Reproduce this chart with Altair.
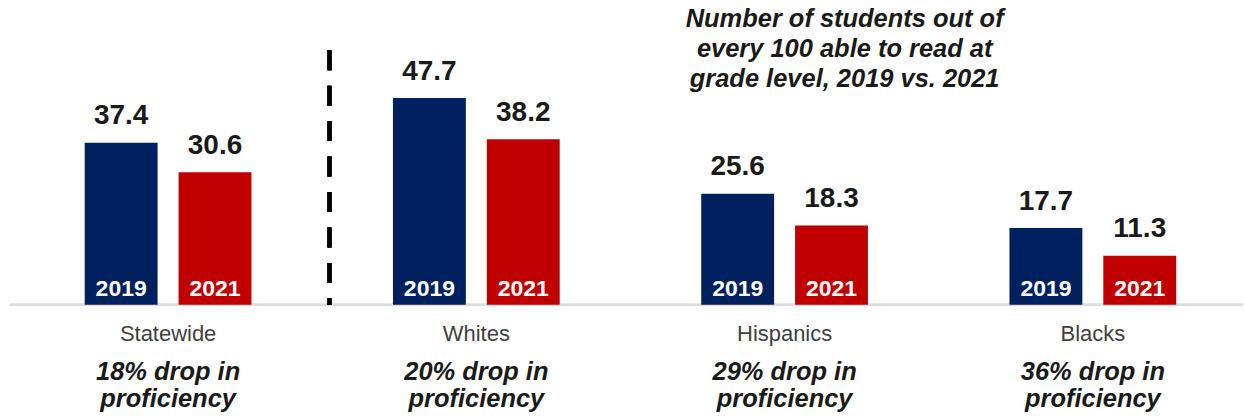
import altair as alt
import pandas as pd

groups = ["Statewide", "Whites", "Hispanics", "Blacks"]
years = ["2019", "2021"]
values_2019 = [37.4, 47.7, 25.6, 17.7]
values_2021 = [30.6, 38.2, 18.3, 11.3]
drop_labels = ["18% drop in\nproficiency", "20% drop in\nproficiency",
               "29% drop in\nproficiency", "36% drop in\nproficiency"]
title_text = "Number of students out of\nevery 100 able to read at\ngrade level, 2019 vs. 2021"

rows = []
for g, a, b in zip(groups, values_2019, values_2021):
    rows.append({"group": g, "year": "2019", "value": a, "label": f"{a:.1f}", "zero": 0})
    rows.append({"group": g, "year": "2021", "value": b, "label": f"{b:.1f}", "zero": 0})
bars_df = pd.DataFrame(rows)
groups_df = pd.DataFrame({"group": groups, "drop": drop_labels, "zero": [0] * len(groups)})

FONT = "Liberation Sans"
W, H = 1235, 304

x_enc = alt.X("group:N", sort=groups, axis=None,
              scale=alt.Scale(paddingInner=0, paddingOuter=0))
xo_enc = alt.XOffset("year:N", sort=years,
                     scale=alt.Scale(paddingInner=0.2234, paddingOuter=0.754, align=0.528))
yscale = alt.Scale(domain=[0, 70], nice=False, zero=True)
y_enc = alt.Y("value:Q", axis=None, scale=yscale)
y0_enc = alt.Y("zero:Q", axis=None, scale=yscale)
color_enc = alt.Color("year:N", legend=None,
                      scale=alt.Scale(domain=years, range=["#002060", "#C00000"]))

base = alt.Chart(bars_df)

baseline = alt.Chart(groups_df).mark_rule(color="#dcdcdc", strokeWidth=2).encode(y=y0_enc)

bars = base.mark_bar().encode(x=x_enc, xOffset=xo_enc, y=y_enc, color=color_enc)

value_text = base.mark_text(font=FONT, fontSize=28, fontWeight="bold", color="#1a1a1a",
                            baseline="alphabetic", dy=-18.5).encode(
    x=x_enc, xOffset=xo_enc, y=y_enc, text="label:N")

year_text = base.mark_text(font=FONT, fontSize=23, fontWeight="bold", color="white",
                           baseline="alphabetic", dy=-8.5).encode(
    x=x_enc, xOffset=xo_enc, y=y0_enc, text="year:N")

cat_text = alt.Chart(groups_df).mark_text(font=FONT, fontSize=22, color="#404040",
                                          baseline="alphabetic", dy=36.5, dx=4).encode(
    x=x_enc, y=y0_enc, text="group:N")

drop_text = alt.Chart(groups_df).mark_text(font=FONT, fontSize=25.5, fontWeight="bold",
                                           fontStyle="italic", color="#1a1a1a",
                                           baseline="alphabetic", dy=75, dx=4,
                                           lineBreak="\n", lineHeight=27).encode(
    x=x_enc, y=y0_enc, text="drop:N")

divider = alt.Chart(groups_df).mark_rule(color="black", strokeWidth=4,
                                         strokeDash=[20, 15.5]).encode(
    x=alt.value(320), y=alt.value(49), y2=alt.value(304))

title = alt.Chart(pd.DataFrame({"t": [title_text]})).mark_text(
    font=FONT, fontSize=25.5, fontWeight="bold", fontStyle="italic", color="#1a1a1a",
    align="center", baseline="alphabetic", lineBreak="\n", lineHeight=30).encode(
    x=alt.value(836), y=alt.value(26), text="t:N")

chart = alt.layer(baseline, bars, value_text, year_text, cat_text, drop_text, divider, title).properties(
    width=W, height=H,
    padding={"left": 9, "top": 1, "right": 0, "bottom": 0},
    background="white",
).configure_view(stroke=None)

chart.save("out.html", embed_options={"renderer": "svg", "actions": False})
